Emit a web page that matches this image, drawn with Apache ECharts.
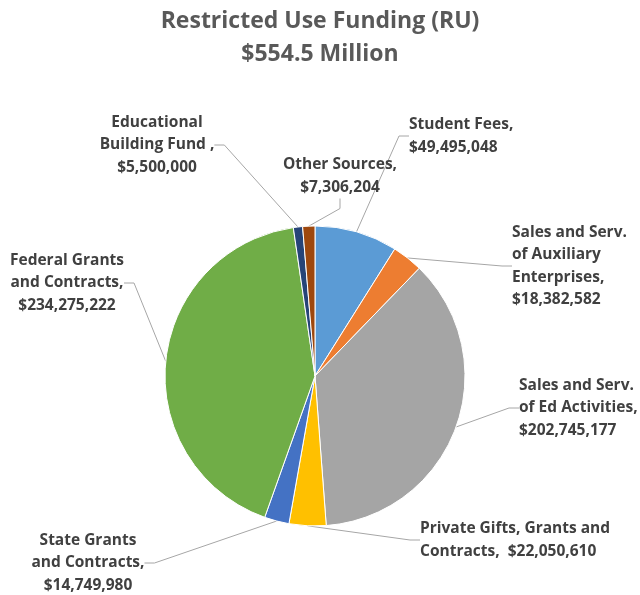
<!DOCTYPE html>
<html>
<head>
<meta charset="utf-8">
<script src="https://cdn.jsdelivr.net/npm/echarts@6/dist/echarts.min.js"></script>
<style>
  html, body { margin: 0; padding: 0; background: #fff; }
  #main { width: 640px; height: 595px; }
</style>
</head>
<body>
<div id="main"></div>
<script>
var categories = [
    'Student Fees,',
    'Sales and Serv.\nof Auxiliary\nEnterprises,',
    'Sales and Serv.\nof Ed Activities,',
    'Private Gifts, Grants and\nContracts, ',
    'State Grants\nand Contracts,',
    'Federal Grants\nand Contracts,',
    'Educational\nBuilding Fund ,',
    'Other Sources,'
];
var values = [49495048, 18382582, 202745177, 22050610, 14749980, 234275222, 5500000, 7306204];
var colors = ['#5B9BD5', '#ED7D31', '#A5A5A5', '#FFC000', '#4472C4', '#70AD47', '#264478', '#9E480E'];
// value on its own line, or after the name on the same line
var sameLine = [false, false, false, true, false, false, false, false];

// where each label block sits (x, y of anchor) and how it is aligned
var labelPos = [
    [409, 136, 'left'],
    [512, 266, 'left'],
    [519, 408, 'left'],
    [420, 540, 'left'],
    [88, 563, 'center'],
    [67, 283, 'center'],
    [157, 145, 'center'],
    [340, 176, 'center']
];

var chart = echarts.init(document.getElementById('main'));

var pieData = categories.map(function (name, i) {
    return { name: name, value: values[i], itemStyle: { color: colors[i] } };
});

chart.setOption({
    title: {
        text: 'Restricted Use Funding (RU)\n$554.5 Million',
        left: 'center',
        top: 0,
        textStyle: {
            fontFamily: 'Open Sans',
            fontWeight: 'bold',
            fontSize: 23,
            color: '#595959',
            lineHeight: 33
        }
    },
    series: [{
        type: 'pie',
        center: [315, 376],
        radius: [0, 150],
        startAngle: 90,
        clockwise: true,
        avoidLabelOverlap: false,
        itemStyle: { borderColor: '#fff', borderWidth: 1 },
        label: {
            show: true,
            position: 'outside',
            fontFamily: 'Open Sans',
            fontWeight: 'bold',
            fontSize: 15.5,
            lineHeight: 22.5,
            color: '#404040',
            formatter: function (p) {
                var v = '$' + p.value.toLocaleString('en-US');
                return p.name + (sameLine[p.dataIndex] ? ' ' : '\n') + v;
            }
        },
        labelLine: {
            show: true,
            length: 15,
            length2: 10,
            lineStyle: { color: '#A6A6A6', width: 1 }
        },
        labelLayout: function (params) {
            var lp = labelPos[params.dataIndex];
            return {
                x: lp[0],
                y: lp[1],
                align: lp[2],
                verticalAlign: 'middle'
            };
        },
        data: pieData
    }]
});
</script>
</body>
</html>
